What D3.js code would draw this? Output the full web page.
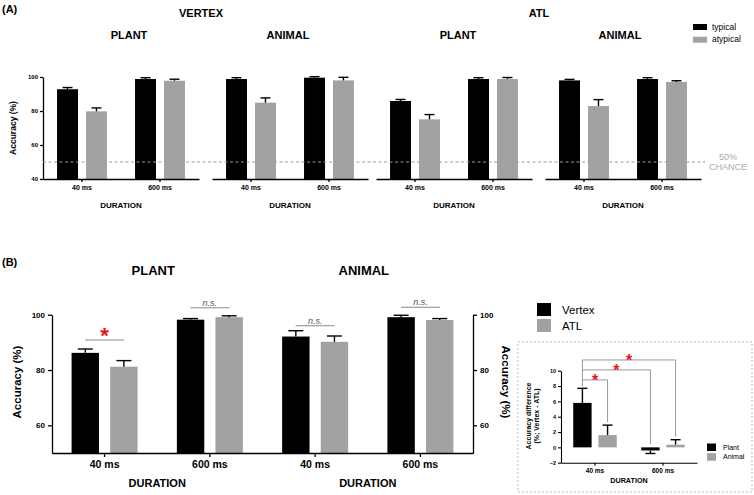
<!DOCTYPE html>
<html><head><meta charset="utf-8">
<script src="https://cdn.jsdelivr.net/npm/d3@7"></script>
<style>body{margin:0;background:#fff;} svg{display:block;font-family:"Liberation Sans",Arial,sans-serif;}</style>
</head><body><svg id="c" width="754" height="495"></svg>
<script>
// ---------- DATA ----------
const durations = ["40 ms", "600 ms"];
const conditionsA = ["typical", "atypical"];
const sitesA = ["VERTEX", "ATL"];
const categoriesA = ["PLANT", "ANIMAL", "PLANT", "ANIMAL"];
// per panel: [40 ms, 600 ms]
const typicalMeans = [[92.8, 98.8], [98.8, 99.6], [85.9, 98.8], [98.0, 98.8]];
const typicalErr   = [[1.0, 0.8], [0.8, 0.6], [0.9, 0.8], [0.6, 0.8]];
const atypicalMeans = [[79.8, 97.8], [84.9, 98.0], [75.1, 98.8], [82.9, 97.1]];
const atypicalErr   = [[2.0, 0.9], [2.8, 1.8], [2.8, 0.9], [3.8, 0.7]];
const yTicksA = [40, 60, 80, 100];
const chanceLevel = 50;

const categoriesB = ["PLANT", "ANIMAL"];
const sitesB = ["Vertex", "ATL"];
// order: PLANT 40, PLANT 600, ANIMAL 40, ANIMAL 600
const vertexMeansB = [86.2, 98.2, 92.1, 99.1];
const vertexErrB   = [1.4, 0.4, 2.1, 0.7];
const atlMeansB    = [81.2, 99.1, 90.2, 98.1];
const atlErrB      = [2.2, 0.5, 2.1, 0.5];
const sigB = ["*", "n.s.", "n.s.", "n.s."];
const yTicksB = [60, 80, 100];

const insetSeries = ["Plant", "Animal"];
const plantDiff = [5.8, -0.4];
const plantDiffErr = [1.9, 0.4];
const animalDiff = [1.6, 0.35];
const animalDiffErr = [1.3, 0.65];
const yTicksInset = [-2, 0, 2, 4, 6, 8, 10];

// ---------- STYLE / LAYOUT ----------
const BLACK = "#000";
const GREY = "#a2a2a5";
const svg = d3.select("#c");
const panelStarts = [43, 212, 376, 545];
const panelW = 156;
const titleXA = [129, 288, 458, 620];
const siteXA = [201, 539];
const sigGapB = [9, 8, 5, 8];

function errBar(g, cx, w, y, v, e) {
  const y0 = y(v), y1 = v >= 0 ? y(v + e) : y(v - e);
  g.append("line").attr("x1", cx).attr("x2", cx).attr("y1", y0).attr("y2", y1)
    .attr("stroke", "#000").attr("stroke-width", 1.4);
  g.append("line").attr("x1", cx - w / 2).attr("x2", cx + w / 2).attr("y1", y1).attr("y2", y1)
    .attr("stroke", "#000").attr("stroke-width", 1.4);
}
function styleAxis(g, fs) {
  g.selectAll("path,line").attr("stroke", "#000").attr("stroke-width", 1.3);
  g.selectAll("text").attr("font-size", fs).attr("font-weight", "bold")
    .attr("font-family", "Liberation Sans, Arial, sans-serif").attr("fill", "#000");
}

// ---------- PANEL A ----------
svg.append("text").attr("x", 2).attr("y", 13).attr("font-size", 11).attr("font-weight", "bold").text("(A)");
const yA = d3.scaleLinear().domain([40, 100]).range([179, 77]);

sitesA.forEach((s, i) => {
  svg.append("text").attr("x", siteXA[i]).attr("y", 17).attr("text-anchor", "middle")
    .attr("font-size", 11).attr("font-weight", "bold").text(s);
});

categoriesA.forEach((cat, p) => {
  const x0 = panelStarts[p];
  const g = svg.append("g");
  const xb = d3.scaleBand().domain(durations).range([x0, x0 + panelW]).paddingInner(0.36).paddingOuter(0.18);
  const xs = d3.scaleBand().domain(conditionsA).range([0, xb.bandwidth()]).paddingInner(0.276);
  g.append("text").attr("x", titleXA[p]).attr("y", 39).attr("text-anchor", "middle")
    .attr("font-size", 11).attr("font-weight", "bold").text(cat);
  durations.forEach((d, di) => {
    const vals = [typicalMeans[p][di], atypicalMeans[p][di]];
    const errs = [typicalErr[p][di], atypicalErr[p][di]];
    conditionsA.forEach((c, ci) => {
      const bx = xb(d) + xs(c);
      g.append("rect").attr("x", bx).attr("y", yA(vals[ci])).attr("width", xs.bandwidth())
        .attr("height", yA(40) - yA(vals[ci])).attr("fill", ci === 0 ? BLACK : GREY);
      errBar(g, bx + xs.bandwidth() / 2, 10, yA, vals[ci], errs[ci]);
    });
  });
  const ax = g.append("g").attr("transform", "translate(0,179)")
    .call(d3.axisBottom(xb).tickSize(3).tickSizeOuter(0).tickPadding(3));
  styleAxis(ax, 7);
  if (p === 0) {
    const ay = g.append("g").attr("transform", `translate(${x0},0)`)
      .call(d3.axisLeft(yA).tickValues(yTicksA).tickSize(3).tickSizeOuter(0).tickPadding(2));
    styleAxis(ay, 6);
  }
  g.append("text").attr("x", x0 + panelW / 2).attr("y", 208).attr("text-anchor", "middle")
    .attr("font-size", 8).attr("font-weight", "bold").text("DURATION");
});
svg.append("text").attr("transform", "translate(16,128) rotate(-90)").attr("text-anchor", "middle")
  .attr("font-size", 8.5).attr("font-weight", "bold").text("Accuracy (%)");

// chance line
svg.append("line").attr("x1", 43).attr("x2", 705).attr("y1", yA(chanceLevel)).attr("y2", yA(chanceLevel))
  .attr("stroke", "#999").attr("stroke-width", 1).attr("stroke-dasharray", "3,2.5");
svg.append("text").attr("x", 728).attr("y", 159.5).attr("text-anchor", "middle").attr("font-size", 9)
  .attr("fill", "#aaa").text("50%");
svg.append("text").attr("x", 728).attr("y", 170).attr("text-anchor", "middle").attr("font-size", 9)
  .attr("fill", "#aaa").text("CHANCE");

// legend A
conditionsA.forEach((c, i) => {
  svg.append("rect").attr("x", 693).attr("y", 24 + i * 12.7).attr("width", 14).attr("height", 6)
    .attr("fill", i === 0 ? BLACK : GREY);
  svg.append("text").attr("x", 712).attr("y", 29.5 + i * 12.7).attr("font-size", 8.5).text(c);
});

// ---------- PANEL B ----------
svg.append("text").attr("x", 2).attr("y", 266).attr("font-size", 11).attr("font-weight", "bold").text("(B)");
const keysB = [];
categoriesB.forEach(c => durations.forEach(d => keysB.push(c + "|" + d)));
const xB = d3.scaleBand().domain(keysB).range([52, 473]).paddingInner(0.373).paddingOuter(0.186);
const xBs = d3.scaleBand().domain(sitesB).range([0, xB.bandwidth()]).paddingInner(0.29);
const yB = d3.scaleLinear().domain([50, 100]).range([453, 314.7]);
const gB = svg.append("g");
keysB.forEach((k, i) => {
  const vals = [vertexMeansB[i], atlMeansB[i]];
  const errs = [vertexErrB[i], atlErrB[i]];
  sitesB.forEach((s, si) => {
    const bx = xB(k) + xBs(s);
    gB.append("rect").attr("x", bx).attr("y", yB(vals[si])).attr("width", xBs.bandwidth())
      .attr("height", yB(50) - yB(vals[si])).attr("fill", si === 0 ? BLACK : GREY);
    errBar(gB, bx + xBs.bandwidth() / 2, 15, yB, vals[si], errs[si]);
  });
  const cx = xB(k) + xB.bandwidth() / 2;
  const top = d3.max([vals[0] + errs[0], vals[1] + errs[1]]);
  const ly = yB(top) - sigGapB[i];
  gB.append("line").attr("x1", cx - 19.5).attr("x2", cx + 19.5).attr("y1", ly).attr("y2", ly)
    .attr("stroke", "#888").attr("stroke-width", 1);
  if (sigB[i] === "*") {
    gB.append("text").attr("x", cx).attr("y", ly + 3).attr("text-anchor", "middle")
      .attr("font-size", 22).attr("font-weight", "bold").attr("fill", "#e8141b").text("*");
  } else {
    gB.append("text").attr("x", cx).attr("y", ly - 2).attr("text-anchor", "middle")
      .attr("font-size", 9).attr("font-style", "italic").attr("fill", "#555").text("n.s.");
  }
});
const axB = gB.append("g").attr("transform", "translate(0,453)")
  .call(d3.axisBottom(xB).tickSize(4).tickSizeOuter(0).tickPadding(4).tickFormat(k => k.split("|")[1]));
styleAxis(axB, 10.5);
const ayB = gB.append("g").attr("transform", "translate(52,0)")
  .call(d3.axisLeft(yB).tickValues(yTicksB).tickSize(4).tickSizeOuter(0).tickPadding(3));
styleAxis(ayB, 8);
const ayB2 = gB.append("g").attr("transform", "translate(473,0)")
  .call(d3.axisRight(yB).tickValues(yTicksB).tickSize(4).tickSizeOuter(0).tickPadding(3));
styleAxis(ayB2, 8);
categoriesB.forEach((c, ci) => {
  const a = xB(c + "|" + durations[0]), b = xB(c + "|" + durations[1]) + xB.bandwidth();
  gB.append("text").attr("x", (a + b) / 2 - 4).attr("y", 275).attr("text-anchor", "middle")
    .attr("font-size", 13).attr("font-weight", "bold").text(c);
  gB.append("text").attr("x", (a + b) / 2).attr("y", 487).attr("text-anchor", "middle")
    .attr("font-size", 11).attr("font-weight", "bold").text("DURATION");
});
svg.append("text").attr("transform", "translate(21,382) rotate(-90)").attr("text-anchor", "middle")
  .attr("font-size", 11.5).attr("font-weight", "bold").text("Accuracy (%)");
svg.append("text").attr("transform", "translate(502,382) rotate(90)").attr("text-anchor", "middle")
  .attr("font-size", 11.5).attr("font-weight", "bold").text("Accuracy (%)");

// legend B
sitesB.forEach((s, i) => {
  svg.append("rect").attr("x", 537).attr("y", 303 + i * 16).attr("width", 14).attr("height", 13)
    .attr("fill", i === 0 ? BLACK : GREY);
  svg.append("text").attr("x", 562).attr("y", 313.5 + i * 16).attr("font-size", 11.5).text(s);
});

// ---------- INSET ----------
svg.append("rect").attr("x", 518).attr("y", 342).attr("width", 234).attr("height", 150)
  .attr("fill", "none").attr("stroke", "#bbb").attr("stroke-width", 1).attr("stroke-dasharray", "2,2");
const xI = d3.scaleBand().domain(durations).range([561, 697]).paddingInner(0.36).paddingOuter(0.18);
const xIs = d3.scaleBand().domain(insetSeries).range([0, xI.bandwidth()]).paddingInner(0.27);
const yI = d3.scaleLinear().domain([-2, 10]).range([462.7, 370.7]);
const gI = svg.append("g");
const diffs = [plantDiff, animalDiff], diffErrs = [plantDiffErr, animalDiffErr];
durations.forEach((d, di) => {
  insetSeries.forEach((s, si) => {
    const v = diffs[si][di], e = diffErrs[si][di];
    const bx = xI(d) + xIs(s);
    gI.append("rect").attr("x", bx).attr("y", yI(Math.max(v, 0))).attr("width", xIs.bandwidth())
      .attr("height", Math.abs(yI(v) - yI(0))).attr("fill", si === 0 ? BLACK : GREY);
    errBar(gI, bx + xIs.bandwidth() / 2, 10, yI, v, e);
  });
});
// brackets from Plant 40 ms to the other bars
const bx0 = xI(durations[0]) + xIs("Plant") + xIs.bandwidth() / 2;
const targets = [
  {x: xI(durations[0]) + xIs("Animal") + xIs.bandwidth() / 2, v: animalDiff[0] + animalDiffErr[0], h: 8.8},
  {x: xI(durations[1]) + xIs("Plant") + xIs.bandwidth() / 2, v: 0, h: 10.1},
  {x: xI(durations[1]) + xIs("Animal") + xIs.bandwidth() / 2, v: animalDiff[1] + animalDiffErr[1], h: 11.4}
];
const bracketTop = yI(targets[2].h);
gI.append("line").attr("x1", bx0).attr("x2", bx0).attr("y1", bracketTop)
  .attr("y2", yI(plantDiff[0] + plantDiffErr[0]) - 2).attr("stroke", "#999");
targets.forEach(t => {
  const yy = yI(t.h);
  gI.append("path").attr("d", `M${bx0},${yy}H${t.x}V${yI(t.v) - 3}`)
    .attr("fill", "none").attr("stroke", "#999").attr("stroke-width", 1);
  gI.append("text").attr("x", (bx0 + t.x) / 2).attr("y", yy + 6).attr("text-anchor", "middle")
    .attr("font-size", 16).attr("font-weight", "bold").attr("fill", "#e8141b").text("*");
});
const axI = gI.append("g").attr("transform", `translate(0,${yI(-2)})`)
  .call(d3.axisBottom(xI).tickSize(3).tickSizeOuter(0).tickPadding(3));
styleAxis(axI, 6.5);
const ayI = gI.append("g").attr("transform", "translate(561,0)")
  .call(d3.axisLeft(yI).tickValues(yTicksInset).tickSize(3).tickSizeOuter(0).tickPadding(2));
styleAxis(ayI, 5.5);
axI.selectAll("path,line").attr("stroke-width", 1.1);
ayI.selectAll("path,line").attr("stroke-width", 1.1);
svg.append("text").attr("x", 629).attr("y", 483).attr("text-anchor", "middle")
  .attr("font-size", 7.2).attr("font-weight", "bold").text("DURATION");
svg.append("text").attr("transform", "translate(531,416) rotate(-90)").attr("text-anchor", "middle")
  .attr("font-size", 7).attr("font-weight", "bold").text("Accuracy difference");
svg.append("text").attr("transform", "translate(539,416) rotate(-90)").attr("text-anchor", "middle")
  .attr("font-size", 7).attr("font-weight", "bold").text("(%; Vertex - ATL)");
insetSeries.forEach((s, i) => {
  svg.append("rect").attr("x", 707).attr("y", 443.5 + i * 9.7).attr("width", 9).attr("height", 7.5)
    .attr("fill", i === 0 ? BLACK : GREY);
  svg.append("text").attr("x", 723).attr("y", 449.5 + i * 9.7).attr("font-size", 7).text(s);
});
</script></body></html>
